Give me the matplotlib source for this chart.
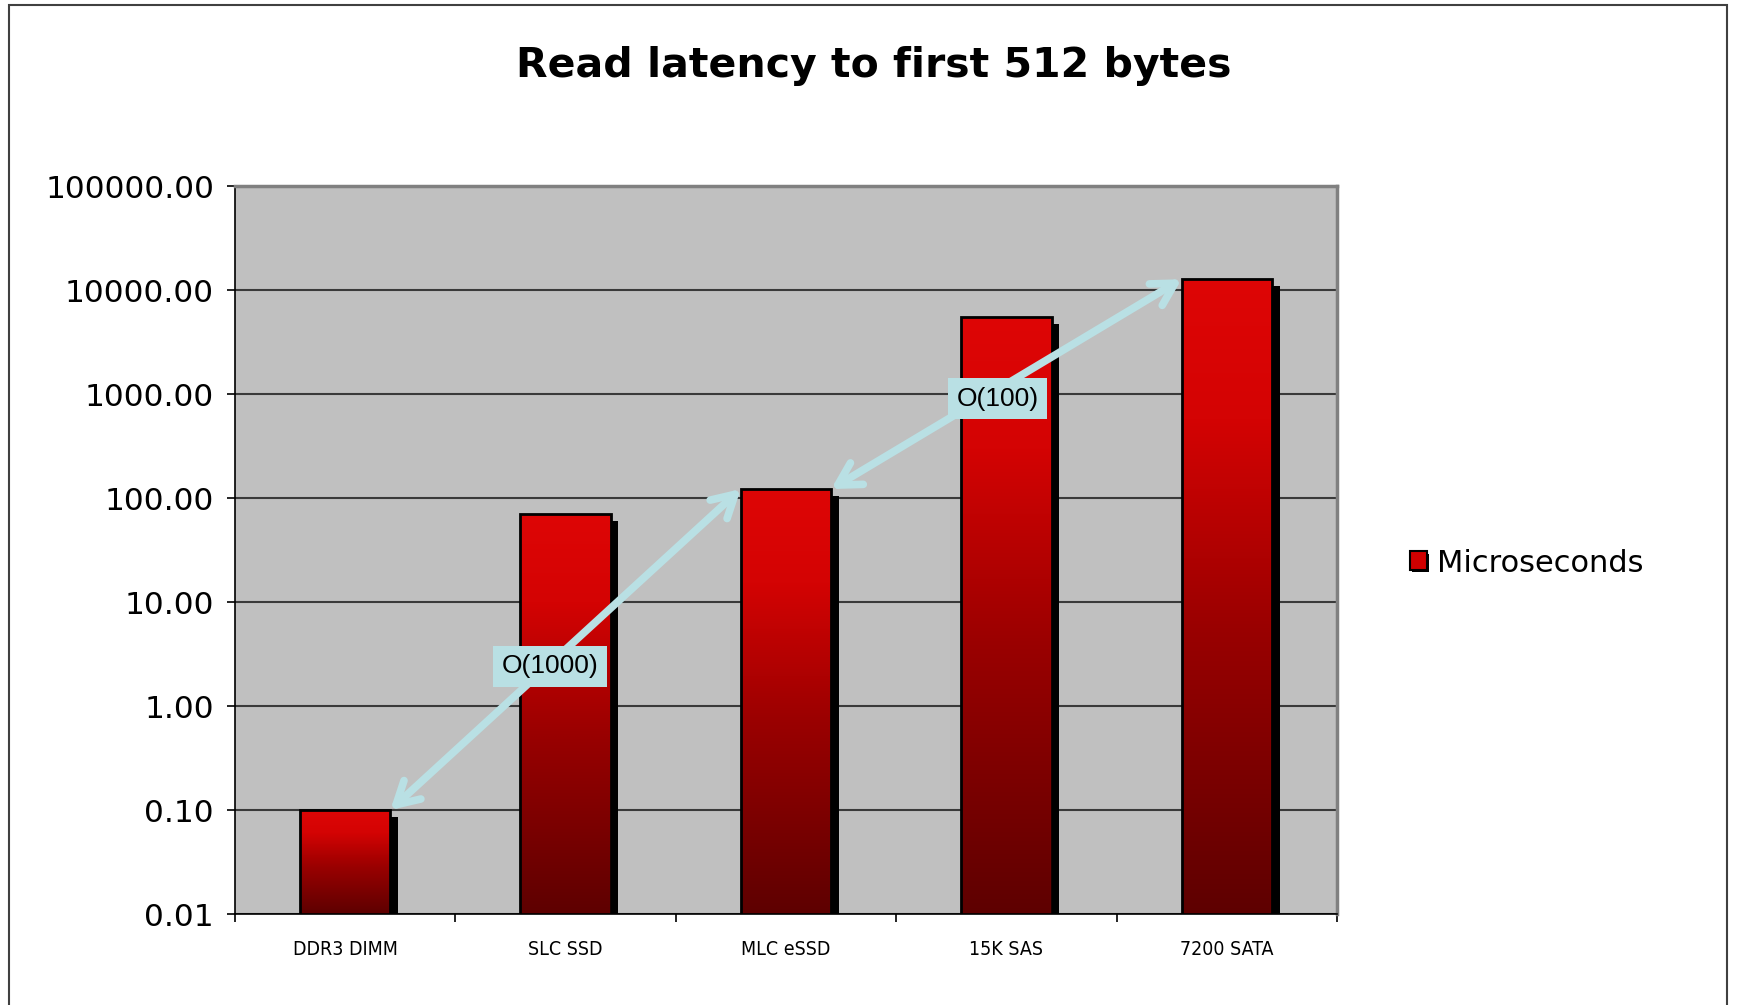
import numpy as np
import matplotlib
matplotlib.use("Agg")
import matplotlib.pyplot as plt
import matplotlib.patheffects as pe
from matplotlib.colors import LinearSegmentedColormap
from matplotlib.patches import Rectangle
from matplotlib.ticker import FixedLocator, NullLocator, FormatStrFormatter

# data
devices = ["DDR3 DIMM", "SLC SSD", "MLC eSSD", "15K SAS", "7200 SATA"]
latency_us = [0.1, 70, 122, 5500, 12700]
series_name = "Microseconds"
y_ticks = [0.01, 0.1, 1, 10, 100, 1000, 10000, 100000]

# annotation labels (text, x, y in data units) and the bar pairs the arrows join
labels = [("O(1000)", 0.93, 2.4), ("O(100)", 2.96, 905)]
arrow_pairs = [(0, 2), (2, 4)]

bar_w = 0.41
grid_bg = "#C0C0C0"
arrow_col = "#B9E0E4"
shadow = [pe.SimplePatchShadow(offset=(5.5, -5), shadow_rgbFace="black", alpha=1), pe.Normal()]

fig = plt.figure(figsize=(17.39, 10.05), dpi=100)
ax = fig.add_axes([0.1351, 0.0905, 0.6337, 0.7244])
ax.set_facecolor(grid_bg)

# frame round the whole figure
fig.patches.append(Rectangle((9 / 1739, -0.01), (1727 - 9) / 1739, 1.01 - 5 / 1005,
                             transform=fig.transFigure, fill=False,
                             edgecolor="#404040", lw=1.5))

fig.text(0.5026, 0.934, "Read latency to first 512 bytes", ha="center", va="center",
         fontsize=29.5, fontweight="bold", family="DejaVu Sans")

x = np.arange(len(devices))
bars = ax.bar(x, latency_us, width=bar_w, color="#C00000", edgecolor="none",
              zorder=2, path_effects=shadow)

ax.set_yscale("log")
ax.set_ylim(0.01, 100000)
ax.set_xlim(-0.5, len(devices) - 0.5)
ax.set_autoscale_on(False)

# red gradient on each bar, bright at the top, dark at the bottom
cmap = LinearSegmentedColormap.from_list(
    "bar", [(0, "#5E0000"), (0.45, "#9A0000"), (0.78, "#D40303"), (1.0, "#DE0606")])
grad = np.linspace(1, 0, 256).reshape(-1, 1)
for b, xi, v in zip(bars, x, latency_us):
    top = ax.transAxes.inverted().transform(ax.transData.transform((xi, v)))[1]
    x0 = b.get_x()
    im = ax.imshow(grad, cmap=cmap, extent=(x0, x0 + bar_w, 0, top),
                   transform=ax.get_xaxis_transform(), aspect="auto", zorder=2.1,
                   interpolation="bilinear")
    im.set_clip_path(b)
ax.bar(x, latency_us, width=bar_w, fill=False, edgecolor="black", lw=2, zorder=2.2)

ax.set_xlim(-0.5, len(devices) - 0.5)
ax.set_ylim(0.01, 100000)

# double arrows between bar tops
for a, c in arrow_pairs:
    ax.annotate("", xy=(x[c] - bar_w / 2, latency_us[c]),
                xytext=(x[a] + bar_w / 2, latency_us[a]),
                arrowprops=dict(arrowstyle="<->,head_length=0.8,head_width=0.45",
                                color=arrow_col, lw=5.5, shrinkA=0, shrinkB=0,
                                mutation_scale=20, capstyle="round", joinstyle="round"),
                zorder=3)

for txt, lx, ly in labels:
    ax.text(lx, ly, txt, ha="center", va="center", fontsize=19,
            family=["Liberation Sans", "DejaVu Sans"], zorder=4,
            bbox=dict(boxstyle="square,pad=0.32", facecolor=arrow_col, edgecolor="none"))

# axes styling
ax.set_axisbelow(True)
ax.yaxis.set_major_locator(FixedLocator(y_ticks))
ax.yaxis.set_minor_locator(NullLocator())
ax.yaxis.set_major_formatter(FormatStrFormatter("%.2f"))
ax.grid(axis="y", color="#3A3A3A", lw=1.5)
ax.tick_params(axis="y", which="major", direction="out", length=6, width=1.2,
               labelsize=22.5, pad=9)
for t in ax.get_yticklabels():
    t.set_family("DejaVu Sans")

ax.set_xticks(np.arange(len(devices) + 1) - 0.5)
ax.set_xticklabels([])
ax.set_xticks(x, minor=True)
ax.set_xticklabels(devices, minor=True, fontsize=14, family="DejaVu Sans",
                   fontstretch="condensed")
ax.tick_params(axis="x", which="major", direction="out", length=6, width=1.2)
ax.tick_params(axis="x", which="minor", length=0, pad=19)

for s in ("left", "bottom"):
    ax.spines[s].set_color("black")
    ax.spines[s].set_linewidth(1.2)
for s in ("top", "right"):
    ax.spines[s].set_color("#808080")
    ax.spines[s].set_linewidth(2.5)

handle = Rectangle((0, 0), 1, 1, facecolor="#D00000", edgecolor="black", lw=1.5,
                   path_effects=[pe.SimplePatchShadow(offset=(1.5, -1.5), shadow_rgbFace="black",
                                                      alpha=1), pe.Normal()])
ax.legend([handle], [series_name], loc="center left", bbox_to_anchor=(0.8108, 0.4398),
          bbox_transform=fig.transFigure, frameon=False, fontsize=22,
          handlelength=0.55, handleheight=0.55, handletextpad=0.35,
          borderpad=0, borderaxespad=0)

fig.savefig("out.png", dpi=100)
